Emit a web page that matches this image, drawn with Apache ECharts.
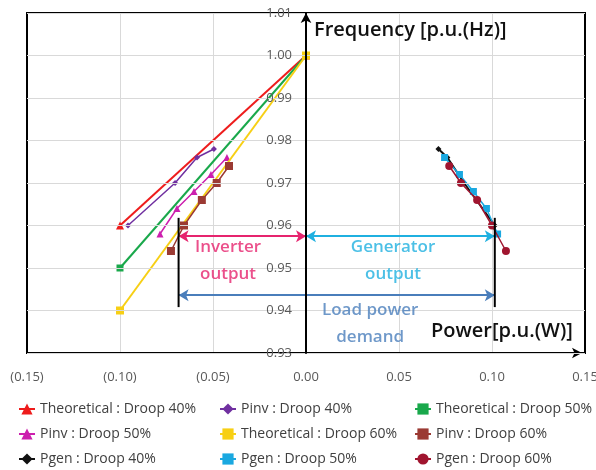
<!DOCTYPE html>
<html>
<head>
<meta charset="utf-8">
<script src="https://cdn.jsdelivr.net/npm/echarts@6/dist/echarts.min.js"></script>
<style>
html,body{margin:0;padding:0;background:#fff;}
#chart{width:596px;height:470px;}
</style>
</head>
<body>
<div id="chart"></div>
<script>
// ---- data ----
const seriesNames = [
  'Theoretical : Droop 40%', 'Pinv : Droop 40%', 'Theoretical : Droop 50%',
  'Pinv : Droop 50%', 'Theoretical : Droop 60%', 'Pinv : Droop 60%',
  'Pgen : Droop 40%', 'Pgen : Droop 50%', 'Pgen : Droop 60%'
];
const theo40 = [[-0.10, 0.960], [0.00, 1.000]];
const theo50 = [[-0.10, 0.950], [0.00, 1.000]];
const theo60 = [[-0.10, 0.940], [0.00, 1.000]];
const pinv40 = [[-0.0957, 0.960], [-0.0704, 0.970], [-0.0586, 0.976], [-0.0495, 0.978]];
const pinv50 = [[-0.0785, 0.958], [-0.0694, 0.964], [-0.0602, 0.968], [-0.0511, 0.972], [-0.0425, 0.976]];
const pinv60 = [[-0.0726, 0.954], [-0.0656, 0.960], [-0.0560, 0.966], [-0.0480, 0.970], [-0.0414, 0.974]];
const pgen40 = [[0.0712, 0.978], [0.0760, 0.976], [0.0850, 0.970], [0.1015, 0.960]];
const pgen50 = [[0.0745, 0.976], [0.0825, 0.972], [0.0900, 0.968], [0.0970, 0.964], [0.1030, 0.958]];
const pgen60 = [[0.0770, 0.974], [0.0833, 0.970], [0.0920, 0.966], [0.1000, 0.960], [0.1075, 0.954]];

// annotation geometry (data units)
const demandLeftLine = [[-0.0685, 0.9618], [-0.0685, 0.9408]];
const demandRightLine = [[0.1015, 0.9618], [0.1015, 0.9408]];
const inverterArrow = [[-0.0685, 0.9575], [0.0, 0.9575]];
const generatorArrow = [[0.0, 0.9575], [0.1015, 0.9575]];
const loadArrow = [[-0.0685, 0.9436], [0.1015, 0.9436]];
const annotationTexts = ['Inverter\noutput', 'Generator\noutput', 'Load power\ndemand'];
const annotationPos = [[-0.0419, 0.9518], [0.0468, 0.9518], [0.0345, 0.9369]];
const axisTitles = ['Frequency [p.u.(Hz)]', 'Power[p.u.(W)]'];

const colors = ['#ee1c1c', '#7030a0', '#19a84b', '#cc1fae', '#f7cf14', '#9b3a33', '#111111', '#1aa8e0', '#a0152f'];
const symbols = ['triangle', 'diamond', 'rect', 'triangle', 'rect', 'rect', 'diamond', 'rect', 'circle'];
const datas = [theo40, pinv40, theo50, pinv50, theo60, pinv60, pgen40, pgen50, pgen60];
const widths = [2, 1.5, 2, 1.5, 2, 1.5, 2, 1.5, 1.5];
const sizes = [8, 6, 7, 7, 8, 8, 6, 7, 8];

const FONT = '"Open Sans", "Noto Sans", sans-serif';
const GRID_LEFT = 27, GRID_W = 558, XMIN = -0.15, XMAX = 0.15;
// pixel distance from the left edge of the plot to x = 0, used to place the frequency axis
const zeroOffset = GRID_W * (0 - XMIN) / (XMAX - XMIN);

const series = datas.map((d, i) => ({
  name: seriesNames[i],
  type: 'line',
  data: d,
  symbol: symbols[i],
  symbolSize: sizes[i],
  showAllSymbol: true,
  lineStyle: { color: colors[i], width: widths[i] },
  itemStyle: { color: colors[i] },
  emphasis: { disabled: true },
  animation: false,
  z: 3 + i
}));

function seg(data, color, width) {
  return { type: 'line', data: data, symbol: 'none', lineStyle: { color: color, width: width },
    silent: true, animation: false, z: 20 };
}
function arrow(data, color) {
  return {
    type: 'line', data: [], animation: false, silent: true, z: 20,
    markLine: {
      silent: true, animation: false,
      symbol: ['arrow', 'arrow'], symbolSize: [9, 10],
      label: { show: false },
      lineStyle: { color: color, width: 2, type: 'solid' },
      data: [[{ coord: data[0] }, { coord: data[1] }]]
    }
  };
}
function textMark(pos, txt, color) {
  return {
    type: 'scatter', data: [pos], symbolSize: 1, animation: false, silent: true, z: 25,
    itemStyle: { color: 'rgba(0,0,0,0)' },
    label: { show: true, position: 'inside', formatter: txt, color: color,
      fontFamily: FONT, fontSize: 17, fontWeight: 600, lineHeight: 27, align: 'center', verticalAlign: 'middle' }
  };
}

series.push(seg(demandLeftLine, '#000', 2));
series.push(seg(demandRightLine, '#000', 2));
series.push(arrow(inverterArrow, '#e6246e'));
series.push(arrow(generatorArrow, '#1fb0e0'));
series.push(arrow(loadArrow, '#4a7ebb'));
series.push(textMark(annotationPos[0], annotationTexts[0], '#e6246e'));
series.push(textMark(annotationPos[1], annotationTexts[1], '#1fb0e0'));
series.push(textMark(annotationPos[2], annotationTexts[2], '#4a7ebb'));

function legendCol(left, names) {
  return {
    left: left, top: 402, height: 68, orient: 'vertical', itemGap: 11, padding: 0,
    itemWidth: 16, itemHeight: 14, selectedMode: false,
    textStyle: { fontFamily: FONT, fontSize: 14, color: '#404040' },
    data: names
  };
}

const chart = echarts.init(document.getElementById('chart'), null, { renderer: 'canvas' });
chart.setOption({
  backgroundColor: '#fff',
  animation: false,
  grid: { left: GRID_LEFT, top: 13, width: GRID_W, height: 340, show: true, borderColor: '#000', borderWidth: 2, containLabel: false, outerBoundsMode: 'none' },
  xAxis: [{
    type: 'value', min: XMIN, max: XMAX, interval: 0.05,
    axisLine: { show: true, onZero: false, symbol: ['none', 'arrow'], symbolSize: [8, 10], symbolOffset: [0, -3], lineStyle: { color: '#000', width: 2 } },
    axisTick: { show: false },
    splitLine: { show: true, lineStyle: { color: '#d9d9d9', width: 1 } },
    axisLabel: {
      margin: 18, color: '#595959', fontFamily: FONT, fontSize: 13,
      showMinLabel: true, showMaxLabel: true,
      formatter: v => { const a = Math.abs(v).toFixed(2); return v < -1e-9 ? '(' + a + ')' : a; }
    }
  }, {
    type: 'value', position: 'top', min: XMIN, max: XMAX,
    axisLine: { show: true, onZero: false, lineStyle: { color: '#000', width: 2 } },
    axisTick: { show: false }, axisLabel: { show: false }, splitLine: { show: false }
  }],
  yAxis: [{
    type: 'value', min: 0.93, max: 1.01, interval: 0.01, position: 'left', offset: -zeroOffset,
    axisLine: { show: true, onZero: false, symbol: ['none', 'arrow'], symbolSize: [8, 10], lineStyle: { color: '#000', width: 2 } },
    axisTick: { show: false },
    splitLine: { show: true, lineStyle: { color: '#d9d9d9', width: 1 } },
    axisLabel: {
      margin: 14, color: '#595959', fontFamily: FONT, fontSize: 13,
      showMinLabel: true, showMaxLabel: true,
      formatter: v => v.toFixed(2)
    },
    z: 15
  }, {
    type: 'value', position: 'left', min: 0.93, max: 1.01, offset: 0,
    axisLine: { show: true, onZero: false, lineStyle: { color: '#000', width: 2 } },
    axisTick: { show: false }, axisLabel: { show: false }, splitLine: { show: false }
  }, {
    type: 'value', position: 'right', min: 0.93, max: 1.01, offset: 0,
    axisLine: { show: true, onZero: false, lineStyle: { color: '#000', width: 2 } },
    axisTick: { show: false }, axisLabel: { show: false }, splitLine: { show: false }
  }],
  legend: [
    legendCol(18, [seriesNames[0], seriesNames[3], seriesNames[6]]),
    legendCol(219, [seriesNames[1], seriesNames[4], seriesNames[7]]),
    legendCol(414, [seriesNames[2], seriesNames[5], seriesNames[8]])
  ],
  graphic: [
    { type: 'text', left: 314, top: 20, style: { text: axisTitles[0], fontFamily: FONT, fontSize: 20, fontWeight: 600, fill: '#111' }, z: 30 },
    { type: 'text', left: 431, top: 321, style: { text: axisTitles[1], fontFamily: FONT, fontSize: 20, fontWeight: 600, fill: '#111' }, z: 30 }
  ],
  series: series
});
</script>
</body>
</html>
